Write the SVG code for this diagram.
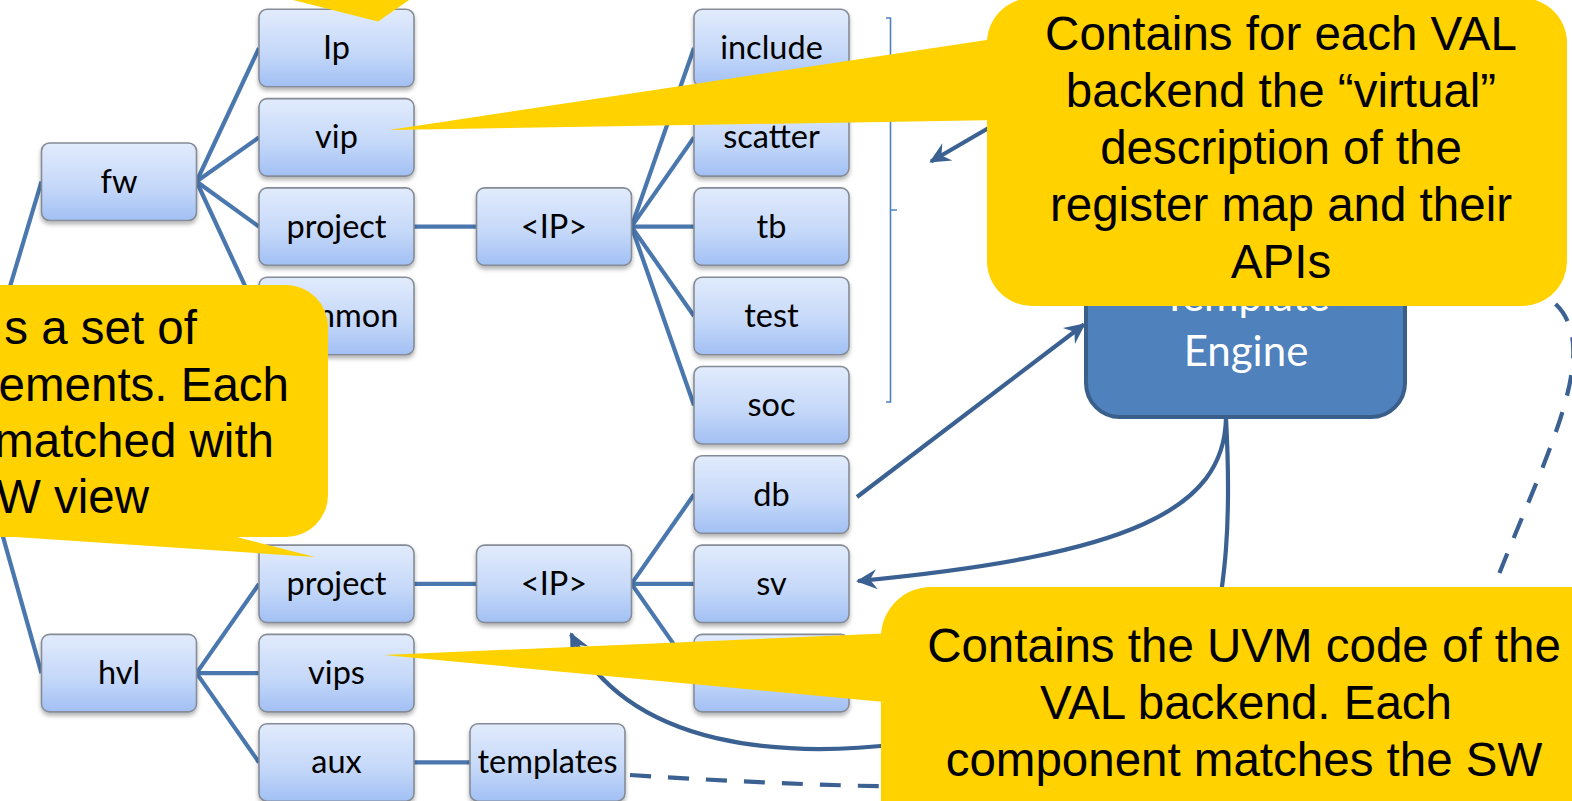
<svg xmlns="http://www.w3.org/2000/svg" width="1572" height="801" viewBox="0 0 1572 801">
<style>
.box{fill:url(#bg);stroke:#858c96;stroke-width:1.6;filter:url(#sh)}
.lbl{font-family:Lato,"Open Sans","Liberation Sans",sans-serif;font-size:32.5px;fill:#000;text-anchor:middle}
.tree{stroke:#4a77ad;stroke-width:4.2;fill:none;stroke-linecap:butt}
.arr{stroke:#3a6192;stroke-width:4.2;fill:none}
.dash{stroke:#3a6192;stroke-width:4.2;fill:none;stroke-dasharray:21 17}
.call{fill:#ffd200}
.ct{font-family:"Liberation Sans",Arial,sans-serif;font-size:47.5px;fill:#000;text-anchor:middle}
.ctl{font-family:"Liberation Sans",Arial,sans-serif;font-size:47.5px;fill:#000;text-anchor:end}
</style>
<defs>
<linearGradient id="bg" x1="0" y1="0" x2="0" y2="1">
<stop offset="0" stop-color="#e1ebfc"/>
<stop offset="0.55" stop-color="#c6d9f9"/>
<stop offset="1" stop-color="#a2c0f4"/>
</linearGradient>
<filter id="sh" x="-10%" y="-10%" width="120%" height="130%">
<feDropShadow dx="0" dy="3" stdDeviation="2" flood-color="#000" flood-opacity="0.3"/>
</filter>
<marker id="ah" markerUnits="userSpaceOnUse" markerWidth="26" markerHeight="26" viewBox="-22 -13 26 26" refX="0" refY="0" orient="auto">
<path d="M2,0 L-19,-10 L-12,0 L-19,10 Z" fill="#3a6192"/>
</marker>
</defs>

<g id="connectors">
<line class="tree" x1="41.5" y1="181.5" x2="-30" y2="420"/>
<line class="tree" x1="41.5" y1="673.15" x2="-30" y2="420"/>
<line class="tree" x1="196.5" y1="181.5" x2="259" y2="48.05"/>
<line class="tree" x1="196.5" y1="181.5" x2="259" y2="137.35"/>
<line class="tree" x1="196.5" y1="181.5" x2="259" y2="226.65"/>
<line class="tree" x1="196.5" y1="181.5" x2="259" y2="315.95"/>
<line class="tree" x1="414" y1="226.65" x2="476.5" y2="226.65"/>
<line class="tree" x1="631.5" y1="226.65" x2="694" y2="48.05"/>
<line class="tree" x1="631.5" y1="226.65" x2="694" y2="137.35"/>
<line class="tree" x1="631.5" y1="226.65" x2="694" y2="226.65"/>
<line class="tree" x1="631.5" y1="226.65" x2="694" y2="315.95"/>
<line class="tree" x1="631.5" y1="226.65" x2="694" y2="405.25"/>
<line class="tree" x1="196.5" y1="673.15" x2="259" y2="583.85"/>
<line class="tree" x1="196.5" y1="673.15" x2="259" y2="673.15"/>
<line class="tree" x1="196.5" y1="673.15" x2="259" y2="762.45"/>
<line class="tree" x1="414" y1="583.85" x2="476.5" y2="583.85"/>
<line class="tree" x1="631.5" y1="583.85" x2="694" y2="494.55"/>
<line class="tree" x1="631.5" y1="583.85" x2="694" y2="583.85"/>
<line class="tree" x1="631.5" y1="583.85" x2="694" y2="673.15"/>
<line class="tree" x1="414" y1="762.45" x2="470" y2="762.45"/>
<path d="M886,18 H890.5 V210 H897 M890.5,210 V402 H886" fill="none" stroke="#4f81bd" stroke-width="1.6"/>
<line class="arr" x1="857" y1="497" x2="1084" y2="324.5" marker-end="url(#ah)"/>
<path class="arr" d="M1226,418 C1224,510 1130,555 858,581" marker-end="url(#ah)"/>
<path class="arr" d="M1226,418 C1232,530 1224,580 1214,640 C1200,720 1000,740 900,744 C790,757 630,752 571,634" marker-end="url(#ah)"/>
<line class="arr" x1="1040" y1="98" x2="931" y2="161.5" marker-end="url(#ah)"/>
<path class="dash" d="M630,775 C1100,805 1420,790 1494,587 C1545,455 1610,340 1548,298"/>
</g>

<g id="node-fw"><rect class="box" x="41.5" y="143" width="155" height="77.5" rx="8"/><text class="lbl" x="119" y="192.5">fw</text></g>
<g id="node-hvl"><rect class="box" x="41.5" y="634.4" width="155" height="77.5" rx="8"/><text class="lbl" x="119" y="684">hvl</text></g>
<g id="node-ip"><rect class="box" x="259" y="9.3" width="155" height="77.5" rx="8"/><text class="lbl" x="336.5" y="59">Ip</text></g>
<g id="node-vip"><rect class="box" x="259" y="98.6" width="155" height="77.5" rx="8"/><text class="lbl" x="336.5" y="148.3">vip</text></g>
<g id="node-project-fw"><rect class="box" x="259" y="187.9" width="155" height="77.5" rx="8"/><text class="lbl" x="336.5" y="237.6">project</text></g>
<g id="node-common"><rect class="box" x="259" y="277.2" width="155" height="77.5" rx="8"/><text class="lbl" x="336.5" y="326.9">common</text></g>
<g id="node-project-hvl"><rect class="box" x="259" y="545.1" width="155" height="77.5" rx="8"/><text class="lbl" x="336.5" y="594.8">project</text></g>
<g id="node-vips"><rect class="box" x="259" y="634.4" width="155" height="77.5" rx="8"/><text class="lbl" x="336.5" y="684.1">vips</text></g>
<g id="node-aux"><rect class="box" x="259" y="723.7" width="155" height="77.5" rx="8"/><text class="lbl" x="336.5" y="773.4">aux</text></g>
<g id="node-IP-fw"><rect class="box" x="476.5" y="187.9" width="155" height="77.5" rx="8"/><text class="lbl" x="554" y="237.6">&lt;IP&gt;</text></g>
<g id="node-IP-hvl"><rect class="box" x="476.5" y="545.1" width="155" height="77.5" rx="8"/><text class="lbl" x="554" y="594.8">&lt;IP&gt;</text></g>
<g id="node-templates"><rect class="box" x="470" y="723.7" width="155" height="77.5" rx="8"/><text class="lbl" x="547.5" y="773.4">templates</text></g>
<g id="node-include"><rect class="box" x="694" y="9.3" width="155" height="77.5" rx="8"/><text class="lbl" x="771.5" y="59">include</text></g>
<g id="node-scatter"><rect class="box" x="694" y="98.6" width="155" height="77.5" rx="8"/><text class="lbl" x="771.5" y="148.3">scatter</text></g>
<g id="node-tb"><rect class="box" x="694" y="187.9" width="155" height="77.5" rx="8"/><text class="lbl" x="771.5" y="237.6">tb</text></g>
<g id="node-test"><rect class="box" x="694" y="277.2" width="155" height="77.5" rx="8"/><text class="lbl" x="771.5" y="326.9">test</text></g>
<g id="node-soc"><rect class="box" x="694" y="366.5" width="155" height="77.5" rx="8"/><text class="lbl" x="771.5" y="416.2">soc</text></g>
<g id="node-db"><rect class="box" x="694" y="455.8" width="155" height="77.5" rx="8"/><text class="lbl" x="771.5" y="505.5">db</text></g>
<g id="node-sv"><rect class="box" x="694" y="545.1" width="155" height="77.5" rx="8"/><text class="lbl" x="771.5" y="594.8">sv</text></g>
<g id="node-hidden"><rect class="box" x="694" y="634.4" width="155" height="77.5" rx="8"/></g>

<g id="node-template-engine">
<rect x="1086" y="229" width="319" height="188" rx="34" fill="#4f81bd" stroke="#3a5f8b" stroke-width="4"/>
<text x="1246" y="311" font-family="Lato,'Open Sans','Liberation Sans',sans-serif" font-size="42" fill="#fff" text-anchor="middle">Template</text>
<text x="1246" y="366" font-family="Lato,'Open Sans','Liberation Sans',sans-serif" font-size="42" fill="#fff" text-anchor="middle">Engine</text>
</g>

<g id="callout-top">
<polygon class="call" points="285,-2 378,21.5 412,-2"/>
</g>

<g id="callout-vip">
<polygon class="call" points="389,130 1000,38 1000,120"/>
<rect class="call" x="987" y="-2" width="580" height="308" rx="45"/>
<text class="ct" x="1281" y="50">Contains for each VAL</text>
<text class="ct" x="1281" y="107">backend the “virtual”</text>
<text class="ct" x="1281" y="164">description of the</text>
<text class="ct" x="1281" y="221">register map and their</text>
<text class="ct" x="1281" y="278">APIs</text>
</g>

<g id="callout-project">
<polygon class="call" points="0,536 315,557 233,536"/>
<rect class="call" x="-100" y="285" width="428" height="252" rx="42"/>
<text class="ctl" x="197" y="344">s a set of</text>
<text class="ctl" x="289" y="401">ements. Each</text>
<text class="ctl" x="274" y="457">matched with</text>
<text class="ctl" x="149" y="513">W view</text>
</g>

<g id="callout-vips">
<polygon class="call" points="384,655 895,633 895,703"/>
<rect class="call" x="881" y="587" width="760" height="300" rx="50"/>
<text class="ct" x="1244" y="662">Contains the UVM code of the</text>
<text class="ct" x="1246" y="719">VAL backend. Each</text>
<text class="ct" x="1244" y="776">component matches the SW</text>
</g>
</svg>
